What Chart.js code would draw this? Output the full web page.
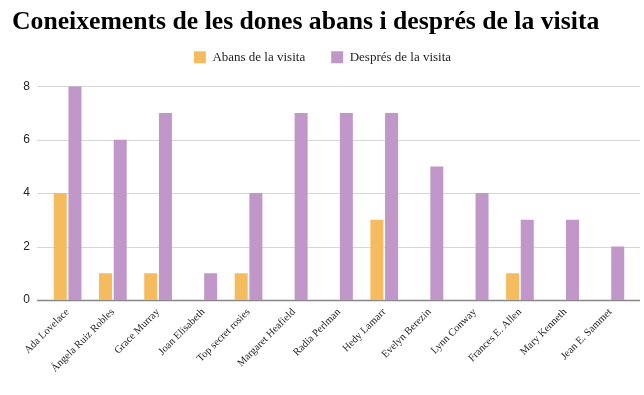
<!DOCTYPE html>
<html>
<head>
<meta charset="utf-8">
<script src="https://cdn.jsdelivr.net/npm/chart.js@4/dist/chart.umd.min.js"></script>
<style>
  body { margin: 0; background: #fff; }
  #wrap { width: 644px; height: 395px; }
</style>
</head>
<body>
<div id="wrap"><canvas id="chart" width="644" height="395"></canvas></div>
<script>
const names = ['Ada Lovelace', 'Ángela Ruiz Robles', 'Grace Murray', 'Joan Elisabeth',
  'Top secret rosies', 'Margaret Heafield', 'Radia Perlman', 'Hedy Lamarr',
  'Evelyn Berezin', 'Lynn Conway', 'Frances E. Allen', 'Mary Kenneth', 'Jean E. Sammet'];
const before = [4, 1, 1, 0, 1, 0, 0, 3, 0, 0, 1, 0, 0];
const after = [8, 6, 7, 1, 4, 7, 7, 7, 5, 4, 3, 3, 2];
const yTicks = [0, 2, 4, 6, 8];

// grid lines reach a bit past the bars on both sides, like the original
const wideGrid = {
  id: 'wideGrid',
  beforeDatasetsDraw(chart) {
    const ctx = chart.ctx;
    const y = chart.scales.y;
    ctx.save();
    yTicks.forEach(v => {
      const py = Math.round(y.getPixelForValue(v)) + 0.5;
      ctx.beginPath();
      ctx.strokeStyle = v === 0 ? '#888888' : '#d6d6d6';
      ctx.lineWidth = v === 0 ? 1.5 : 1;
      ctx.moveTo(37, py);
      ctx.lineTo(640, py);
      ctx.stroke();
    });
    ctx.restore();
  }
};

new Chart(document.getElementById('chart'), {
  type: 'bar',
  data: {
    labels: names,
    datasets: [
      { label: 'Abans de la visita', data: before, backgroundColor: '#F5BC5F' },
      { label: 'Després de la visita', data: after, backgroundColor: '#C196C8' }
    ]
  },
  options: {
    responsive: false,
    animation: false,
    layout: { padding: { left: 12, right: 11, top: 0, bottom: 0 } },
    barPercentage: 0.885,
    categoryPercentage: 0.65,
    scales: {
      x: {
        grid: { display: false, drawTicks: false },
        border: { display: false },
        ticks: {
          minRotation: 45,
          maxRotation: 45,
          padding: 6,
          color: '#222',
          font: { family: 'Liberation Serif', size: 10.5 }
        },
        afterFit(scale) { scale.height = 95; }
      },
      y: {
        min: 0,
        max: 8,
        grid: { display: false, drawTicks: false },
        border: { display: false },
        afterBuildTicks(scale) { scale.ticks = yTicks.map(v => ({ value: v })); },
        ticks: {
          padding: 15,
          color: '#222',
          font: { family: 'Liberation Sans', size: 12 }
        },
        afterFit(scale) { scale.width = 33; }
      }
    },
    plugins: {
      title: {
        display: true,
        text: 'Coneixements de les dones abans i després de la visita',
        align: 'start',
        color: '#000',
        font: { family: 'Liberation Serif', size: 25.7, weight: 'bold', lineHeight: 1 },
        padding: { top: 10, bottom: -11 }
      },
      // empty spacer between the legend and the plot
      subtitle: {
        display: true,
        text: ' ',
        weight: 500,
        font: { size: 1, lineHeight: 1 },
        padding: { top: 0, bottom: 11.5 }
      },
      legend: {
        labels: {
          boxWidth: 12,
          boxHeight: 12,
          padding: 26,
          color: '#222',
          font: { family: 'Liberation Serif', size: 13 }
        }
      },
      tooltip: { enabled: false }
    }
  },
  plugins: [wideGrid]
});
</script>
</body>
</html>
